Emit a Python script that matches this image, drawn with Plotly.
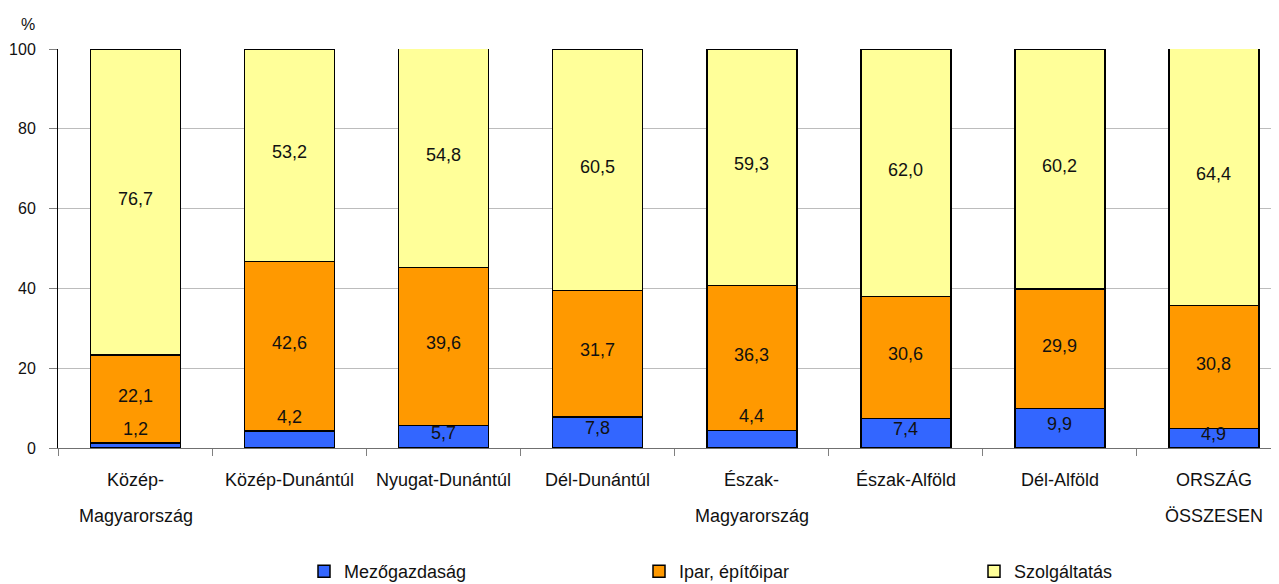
import plotly.graph_objects as go

categories = ["Közép-<br>Magyarország", "Közép-Dunántúl", "Nyugat-Dunántúl", "Dél-Dunántúl",
              "Észak-<br>Magyarország", "Észak-Alföld", "Dél-Alföld", "ORSZÁG<br>ÖSSZESEN"]
agri = [1.2, 4.2, 5.7, 7.8, 4.4, 7.4, 9.9, 4.9]
ind = [22.1, 42.6, 39.6, 31.7, 36.3, 30.6, 29.9, 30.8]
serv = [76.7, 53.2, 54.8, 60.5, 59.3, 62.0, 60.2, 64.4]
series_names = ["Mezőgazdaság", "Ipar, építőipar", "Szolgáltatás"]
agri_label_outside = [True, True, False, False, True, False, False, False]
y_ticks = [0, 20, 40, 60, 80, 100]

colors = ["#3366FF", "#FF9900", "#FFFF99"]
FONT = "Liberation Sans, Arial, sans-serif"
TXT = "#111111"

# page body has an 8px default margin; figure sized to fit the 1279x584 window
W, H = 1271, 576
ML, MT, MB = 50, 41, 136


def fmt(v):
    return f"{v:.1f}".replace(".", ",")


fig = go.Figure()
for name, vals, col in zip(series_names, [agri, ind, serv], colors):
    fig.add_trace(go.Bar(
        x=categories, y=vals, name=name, width=0.584,
        marker=dict(color=col, line=dict(color="#000000", width=1.5)),
        hoverinfo="skip",
    ))

annotations = []
for i, c in enumerate(categories):
    a, b, s = agri[i], ind[i], serv[i]
    ya = a + 3.6 if agri_label_outside[i] else a / 2 + 1
    yb = a + b / 2 + 0.8
    ys = a + b + s / 2 + 0.8
    for y, v in [(ya, a), (yb, b), (ys, s)]:
        annotations.append(dict(x=c, y=y, xref="x", yref="y", text=fmt(v), showarrow=False,
                                font=dict(family=FONT, size=18, color=TXT),
                                xanchor="center", yanchor="middle"))
    for j, ln in enumerate(c.split("<br>")):
        annotations.append(dict(x=c, y=0, xref="x", yref="paper", text=ln, showarrow=False,
                                font=dict(family=FONT, size=18, color=TXT),
                                xanchor="center", yanchor="middle", yshift=-32 - 36 * j))

annotations.append(dict(x=-30 / (W - ML), y=1 + 25 / (H - MT - MB), xref="paper", yref="paper",
                        text="%", showarrow=False,
                        font=dict(family=FONT, size=16, color=TXT),
                        xanchor="center", yanchor="middle"))

fig.update_layout(
    width=W, height=H,
    margin=dict(l=ML, r=0, t=MT, b=MB, pad=0, autoexpand=False),
    barmode="stack",
    plot_bgcolor="white", paper_bgcolor="white",
    font=dict(family=FONT, size=16, color=TXT),
    annotations=annotations,
    showlegend=True,
    legend=dict(orientation="h", xref="container", yref="container", traceorder="normal",
                x=296 / W, xanchor="left", y=(H - 545) / H, yanchor="top",
                font=dict(family=FONT, size=18, color=TXT),
                entrywidth=290, entrywidthmode="pixels",
                bgcolor="rgba(0,0,0,0)", itemclick=False, itemdoubleclick=False),
)
fig.update_xaxes(
    type="category", range=[-0.503, 7.422], tickson="boundaries",
    showticklabels=False, ticks="outside", ticklen=7, tickcolor="#808080", tickwidth=1,
    showline=True, linecolor="#707070", linewidth=1, showgrid=False, zeroline=False,
    fixedrange=True,
)
fig.update_yaxes(
    range=[0, 100], tickmode="array", tickvals=y_ticks, ticktext=[str(t) for t in y_ticks],
    ticks="outside", ticklen=8, tickcolor="#808080", tickwidth=1, ticklabelstandoff=10,
    showline=True, linecolor="#000000", linewidth=1,
    showgrid=True, gridcolor="#bcbcbc", gridwidth=1.2, zeroline=False,
    tickfont=dict(family=FONT, size=16, color=TXT), fixedrange=True,
)
fig.write_html("out.html")
